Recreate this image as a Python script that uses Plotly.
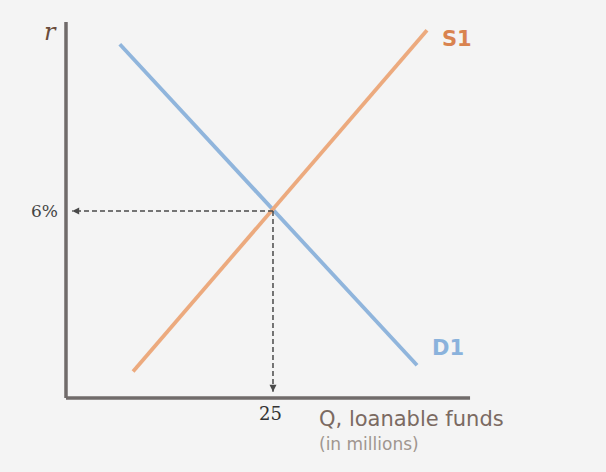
import plotly.graph_objects as go

# loanable funds market (Q in millions, r in %)
demand_q = [6.5, 42.4]
demand_r = [11.35, 1.05]
supply_q = [8.1, 43.6]
supply_r = [0.85, 11.8]
eq_q = 25
eq_r = 6
tick_q_label = "25"
tick_r_label = "6%"

blue = "#90b5dc"
orange = "#ecaa7e"
axis_col = "#706b6a"
dash_col = "#4a4a4a"

fig = go.Figure()

fig.add_trace(go.Scatter(x=demand_q, y=demand_r, mode="lines",
                         line=dict(color=blue, width=3.8), hoverinfo="skip"))
fig.add_trace(go.Scatter(x=supply_q, y=supply_r, mode="lines",
                         line=dict(color=orange, width=3.8), hoverinfo="skip"))

# dashed guides to the axes
fig.add_trace(go.Scatter(x=[eq_q, 0.75], y=[eq_r, eq_r], mode="lines",
                         line=dict(color=dash_col, width=1.5, dash="5px,3px"),
                         hoverinfo="skip"))
fig.add_trace(go.Scatter(x=[eq_q, eq_q], y=[eq_r, 0.2], mode="lines",
                         line=dict(color=dash_col, width=1.5, dash="5px,3px"),
                         hoverinfo="skip"))
fig.add_trace(go.Scatter(x=[0.75], y=[eq_r], mode="markers",
                         marker=dict(symbol="arrow-left", size=7, color=dash_col),
                         hoverinfo="skip"))
fig.add_trace(go.Scatter(x=[eq_q], y=[0.2], mode="markers",
                         marker=dict(symbol="arrow-down", size=7, color=dash_col),
                         hoverinfo="skip"))

# axes
fig.add_shape(type="line", x0=0, y0=0, x1=0, y1=12.06, xref="x", yref="y",
              line=dict(color=axis_col, width=3.5))
fig.add_shape(type="line", x0=0, y0=0, x1=48.8, y1=0, xref="x", yref="y",
              line=dict(color=axis_col, width=3.5))

serif = "DejaVu Serif"
sans = "DejaVu Sans"
fig.add_annotation(x=-1.93, y=11.74, text="<i>r</i>", showarrow=False,
                   font=dict(family=serif, size=24, color="#6b4c3b"))
fig.add_annotation(x=-0.72, y=eq_r, text=tick_r_label, showarrow=False,
                   xanchor="right", font=dict(family=serif, size=17, color="#444"))
fig.add_annotation(x=eq_q, y=-0.51, xshift=-2, text=tick_q_label, showarrow=False,
                   font=dict(family=serif, size=18, color="#333"))
fig.add_annotation(x=30.3, y=-0.67, text="Q, loanable funds", showarrow=False,
                   xanchor="left", font=dict(family=sans, size=21, color="#7b6a62"))
fig.add_annotation(x=30.3, y=-1.48, text="(in millions)", showarrow=False,
                   xanchor="left", font=dict(family=sans, size=17, color="#a0968f"))
fig.add_annotation(x=45.17, y=11.52, text="S1", showarrow=False,
                   xanchor="left", font=dict(family=sans, size=21, color="#d9834f",
                                             weight="bold"))
fig.add_annotation(x=43.96, y=1.60, text="D1", showarrow=False,
                   xanchor="left", font=dict(family=sans, size=21, color="#8ab2dc",
                                             weight="bold"))

fig.update_xaxes(visible=False, range=[-7.97, 65.22])
fig.update_yaxes(visible=False, range=[-2.374, 12.769])
fig.update_layout(width=606, height=472, showlegend=False,
                  margin=dict(l=0, r=0, t=0, b=0),
                  plot_bgcolor="#f4f4f4", paper_bgcolor="#f4f4f4")

fig.write_html("out.html", config={"displayModeBar": False},
               post_script="document.body.style.margin='0';"
                           "document.body.style.background='#f4f4f4';")
